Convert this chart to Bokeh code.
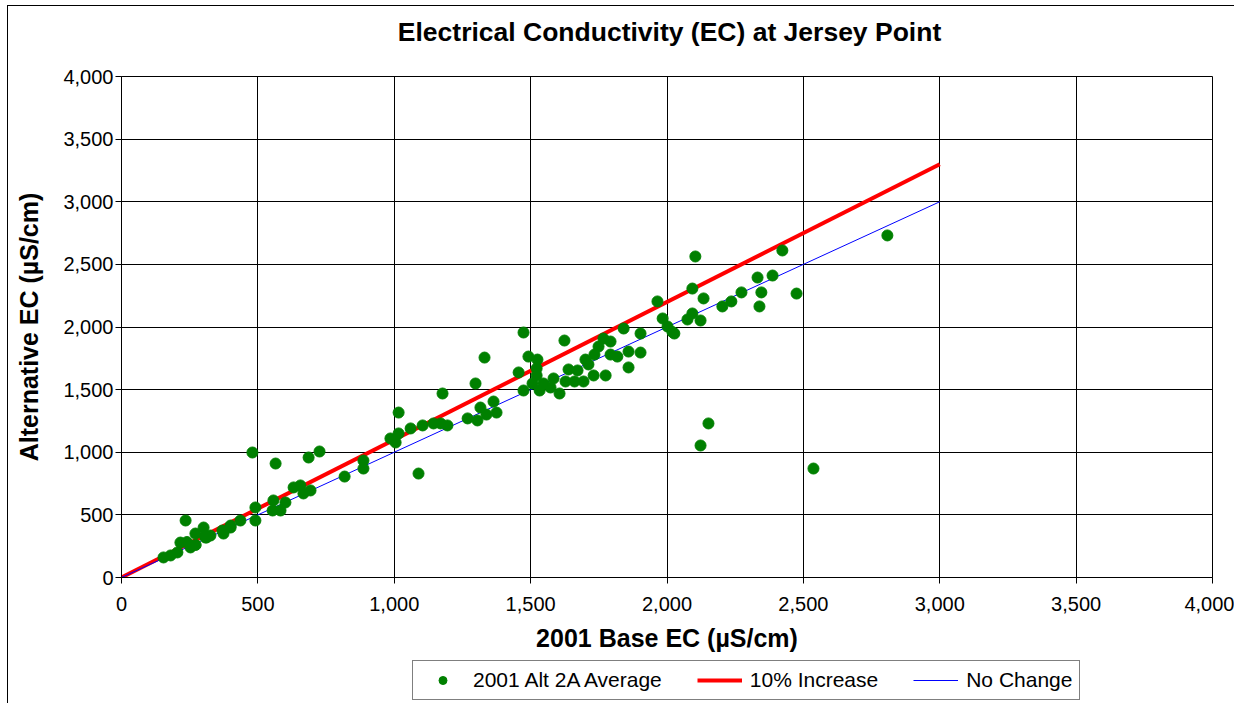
from bokeh.plotting import figure
from bokeh.layouts import column
from bokeh.models import Legend, LegendItem, NumeralTickFormatter, FixedTicker, Range1d, Label
from bokeh.embed import file_html
from bokeh.resources import INLINE

# ---- data ----
base_ec = [154, 180, 205, 216, 235, 253, 271, 301, 308, 326, 370, 374, 400, 436, 480, 491, 491,
           565, 557, 554, 583, 601, 631, 656, 667, 693, 686, 726, 818, 887, 887, 400, 240,
           272, 307, 312,
           986, 1005, 1016, 1016, 1060, 1104, 1144, 1170, 1195, 1089, 1177, 1269, 1305, 1316, 1338,
           1364, 1375, 1298, 1331, 1474, 1492, 1525, 1456, 1522, 1522, 1474, 1507, 1533, 1547, 1573,
           1584, 1606, 1624, 1628, 1639, 1661, 1672, 1694, 1701, 1712, 1731, 1734, 1749, 1767, 1775,
           1793, 1793, 1818, 1841, 1859, 1859, 1903, 1903,
           1965, 1984, 2002, 2027, 2020, 2075, 2093, 2093, 2104, 2134, 2123, 2203, 2236, 2273, 2332,
           2346, 2339, 2387, 2423, 2475, 2808, 2537, 2123, 2152]
alt_ec = [160, 176, 200, 279, 455, 240, 351, 399, 319, 335, 375, 351, 399, 455, 998, 559, 455,
          910, 615, 535, 535, 599, 719, 735, 671, 695, 958, 1006, 806, 934, 870, 415, 283,
          260, 330, 320,
          1110, 1078, 1150, 1317, 1190, 1214, 1230, 1230, 1214, 830, 1469, 1270, 1254, 1357, 1301,
          1405, 1317, 1549, 1756, 1956, 1764, 1740, 1637, 1669, 1613, 1493, 1549, 1493, 1549, 1517,
          1589, 1469, 1892, 1565, 1661, 1565, 1653, 1565, 1740, 1701, 1613, 1780, 1844, 1908, 1613,
          1884, 1780, 1764, 1988, 1804, 1677, 1948, 1796,
          2204, 2068, 2004, 1948, 1960, 2060, 2108, 2307, 2563, 2228, 2052, 2164, 2204, 2276, 2395,
          2276, 2164, 2411, 2611, 2267, 2731, 870, 1054, 1230]
line_x = [0, 3000]
increase_y = [0, 3300]
no_change_y = [0, 3000]
ticks = [0, 500, 1000, 1500, 2000, 2500, 3000, 3500, 4000]
series_labels = ["2001 Alt 2A Average", "10% Increase", "No Change"]
title_text = "Electrical Conductivity (EC) at Jersey Point"

FONT = "Liberation Sans"
GREEN, RED, BLUE = "#008000", "#FF0000", "#0000FF"


def strip(height, x_rng, y_rng):
    f = figure(width=1226, height=height, output_backend="svg", toolbar_location=None,
               x_axis_type=None, y_axis_type=None, min_border=0,
               x_range=x_rng, y_range=y_rng)
    f.outline_line_color = None
    f.xgrid.visible = False
    f.ygrid.visible = False
    f.border_fill_color = "white"
    f.background_fill_color = "white"
    return f


# title strip above the chart
top = strip(58, Range1d(0, 1), Range1d(0, 1))
top.add_layout(Label(x=548, y=33, x_units="screen", y_units="screen", text=title_text,
                     text_align="center", text_baseline="middle", text_font=FONT,
                     text_font_size="26.5px", text_font_style="bold", text_color="black"))

p = figure(width=1226, height=594, output_backend="svg", toolbar_location=None,
           x_range=Range1d(0, 4000), y_range=Range1d(0, 4000),
           min_border_left=113, min_border_right=22, min_border_top=12, min_border_bottom=81)

for ax in (p.xaxis[0], p.yaxis[0]):
    ax.ticker = FixedTicker(ticks=ticks)
    ax.formatter = NumeralTickFormatter(format="0,0")
    ax.major_label_text_font = FONT
    ax.major_label_text_font_size = "20px"
    ax.major_label_text_color = "black"
    ax.axis_label_text_font = FONT
    ax.axis_label_text_font_size = "25px"
    ax.axis_label_text_font_style = "bold"
    ax.axis_label_text_color = "black"
    ax.major_tick_out = 6
    ax.major_tick_in = 0
    ax.minor_tick_out = 0
    ax.minor_tick_in = 0
    ax.axis_line_color = "black"
    ax.major_tick_line_color = "black"

p.xaxis.axis_label = "2001 Base EC (µS/cm)"
p.yaxis.axis_label = "Alternative EC (µS/cm)"
p.xaxis.major_label_standoff = 13
p.xaxis.axis_label_standoff = 10
p.yaxis.major_label_standoff = 2
p.yaxis.axis_label_standoff = 17

for g in (p.xgrid[0], p.ygrid[0]):
    g.ticker = FixedTicker(ticks=ticks)
    g.grid_line_color = "black"
    g.grid_line_width = 1
    g.grid_line_alpha = 1.0

p.outline_line_color = "black"
p.outline_line_width = 1
p.background_fill_color = "white"
p.border_fill_color = "white"

p.line(line_x, increase_y, line_color=RED, line_width=4)
p.line(line_x, no_change_y, line_color=BLUE, line_width=1)
p.scatter(base_ec, alt_ec, size=11, fill_color=GREEN, line_color=GREEN)

# legend strip below the chart (its ranges keep the proxy series out of view)
leg = strip(45, Range1d(-2, -1), Range1d(-2, -1))
l_pts = leg.scatter(base_ec, alt_ec, size=9, fill_color=GREEN, line_color=GREEN)
l_inc = leg.line(line_x, increase_y, line_color=RED, line_width=4)
l_no = leg.line(line_x, no_change_y, line_color=BLUE, line_width=1)

legend = Legend(items=[LegendItem(label=series_labels[0], renderers=[l_pts]),
                       LegendItem(label=series_labels[1], renderers=[l_inc]),
                       LegendItem(label=series_labels[2], renderers=[l_no])],
                orientation="horizontal", location=(291, 3))
legend.label_text_font = FONT
legend.label_text_font_size = "21px"
legend.label_text_color = "black"
legend.glyph_width = 45
legend.glyph_height = 20
legend.label_standoff = 8
legend.spacing = 35
legend.padding = 7
legend.margin = 0
legend.border_line_color = "black"
legend.border_line_width = 1
legend.background_fill_color = "white"
legend.background_fill_alpha = 1.0
leg.add_layout(legend, "center")

layout = column(top, p, leg, spacing=0,
                styles={"border-top": "1px solid black", "border-left": "1px solid black",
                        "margin-left": "7px", "margin-top": "5px"})

open("out.html", "w").write(file_html(layout, INLINE))
